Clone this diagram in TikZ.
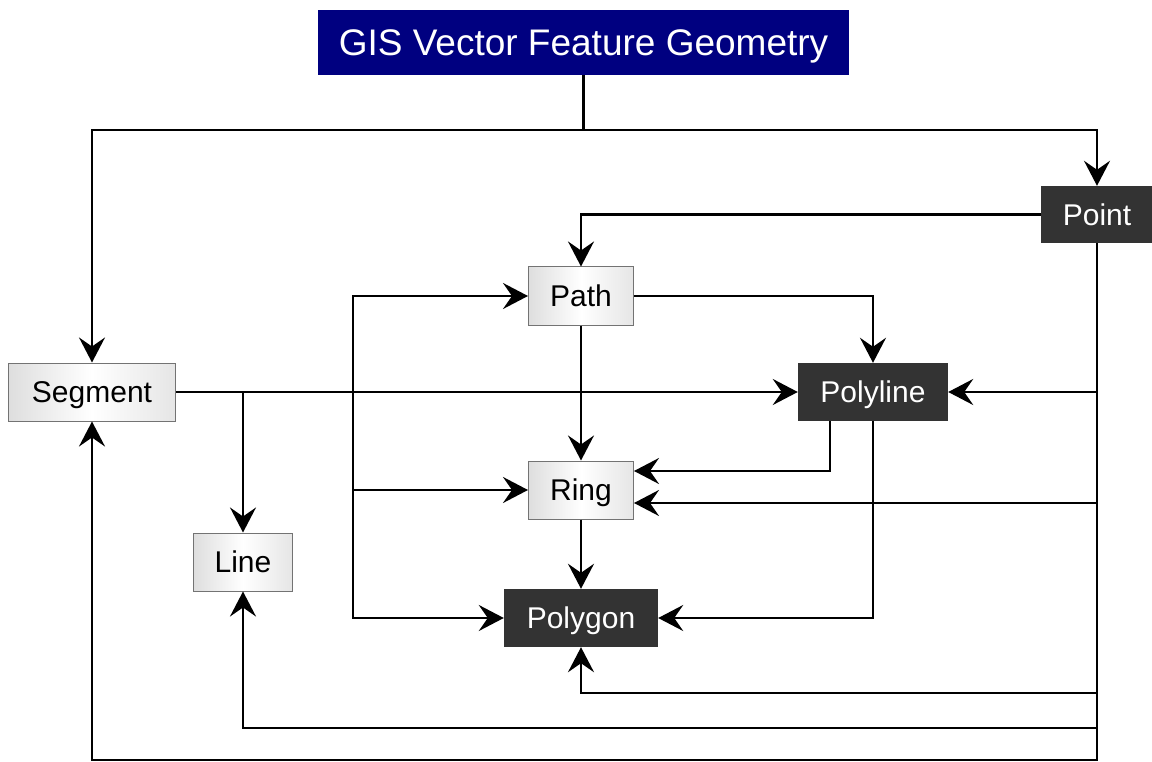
\documentclass[tikz,border=0pt]{standalone}
\usepackage{fontspec}
\setmainfont{Liberation Sans}
\usetikzlibrary{arrows.meta,calc}
\definecolor{navyblue}{RGB}{0,0,128}
\definecolor{darkbox}{RGB}{51,51,51}

\begin{document}
\begin{tikzpicture}[x=1pt,y=-1pt,
lite/.style={rectangle, draw=black!55, line width=1pt, left color=black!13, right color=black!10, middle color=white, minimum height=58pt, inner sep=0pt, text height=21.5pt, text depth=0pt, font=\fontsize{30}{34}\selectfont},
dark/.style={rectangle, fill=darkbox, text=white, minimum height=58pt, inner sep=0pt, text height=21.5pt, text depth=0pt, font=\fontsize{30}{34}\selectfont},
arr/.style={-{Stealth[length=25pt,width=26pt,inset=9pt]}, line width=2.4pt}]

\useasboundingbox (0,0) rectangle (1152,762);

\node[rectangle, fill=navyblue, text=white, minimum width=531pt, minimum height=65pt, inner sep=0pt, text height=26.5pt, text depth=0pt, font=\fontsize{37}{40}\selectfont] at (583.5,42.5) (title) {GIS Vector Feature Geometry};

\node[dark, minimum width=112pt, minimum height=57pt] at (1097,214.5) (point) {Point};
\node[lite, minimum width=105pt] at (581,296) (path) {Path};
\node[lite, minimum width=167pt] at (92,392) (segment) {Segment};
\node[dark, minimum width=150pt] at (873,392) (polyline) {Polyline};
\node[lite, minimum width=105pt] at (581,490) (ring) {Ring};
\node[lite, minimum width=99pt] at (243,562) (line) {Line};
\node[dark, minimum width=154pt] at (581,618) (polygon) {Polygon};

% from the top box
\draw[arr] (title.south) -- ++(0,55) -| (segment.north);
\draw[arr] (title.south) -- ++(0,55) -| (point.north);

% from point
\draw[arr] (point.west) -| (path.north);
\draw[arr] (point.south) |- (polyline.east);
\draw[arr] (point.south) |- ($(ring.east)+(0,13)$);
\draw[arr] (point.south) -- ++(0,450) -| (polygon.south);
\draw[arr] (point.south) -- ++(0,485) -| (line.south);
\draw[arr] (point.south) -- ++(0,517) -| (segment.south);

% from segment
\coordinate (sb) at ($(segment.east)+(177,0)$);
\draw[arr] (segment.east) -- (polyline.west);
\draw[arr] (segment.east) -| (line.north);
\draw[arr] (sb) |- (path.west);
\draw[arr] (sb) |- (ring.west);
\draw[arr] (sb) |- (polygon.west);

% from path, ring, polyline
\draw[arr] (path.east) -| (polyline.north);
\draw[arr] (path.south) -- (ring.north);
\draw[arr] (ring.south) -- (polygon.north);
\draw[arr] ($(polyline.south)+(-43,0)$) |- ($(ring.east)+(0,-19)$);
\draw[arr] (polyline.south) |- (polygon.east);
\end{tikzpicture}
\end{document}
